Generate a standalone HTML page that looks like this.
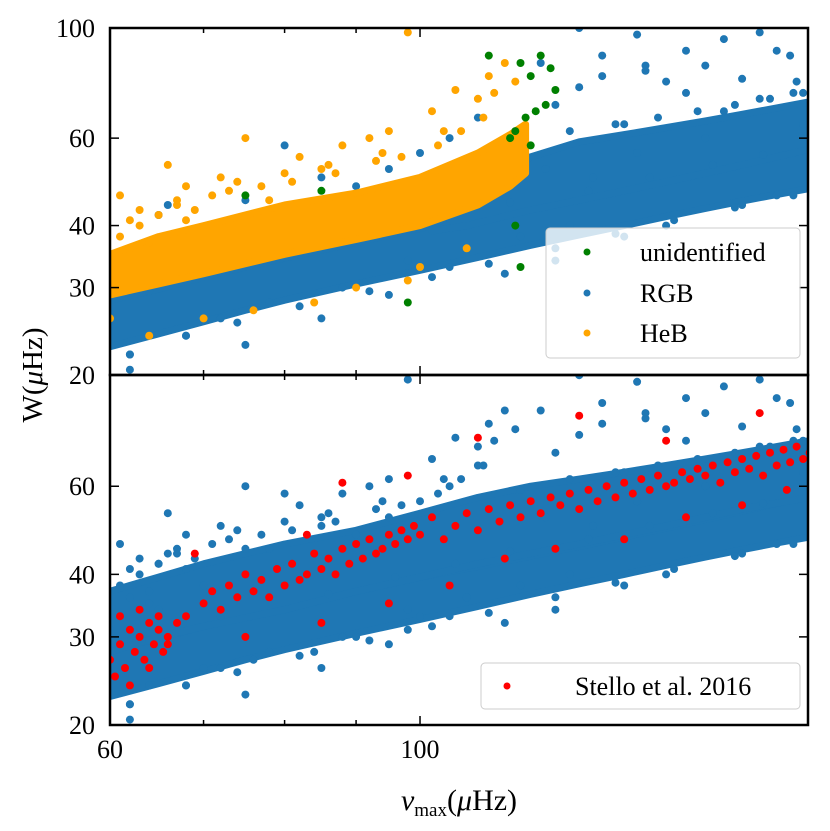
<!DOCTYPE html>
<html><head><meta charset="utf-8">
<style>
html,body{margin:0;padding:0;background:#fff;}
svg{display:block;font-family:"Liberation Serif",serif;}
</style></head>
<body>
<svg id="chart" width="830" height="831" viewBox="0 0 830 831" xmlns="http://www.w3.org/2000/svg">
<defs>
<clipPath id="clipTop"><rect x="110" y="28" width="698" height="347"/></clipPath>
<clipPath id="clipBot"><rect x="110" y="375" width="698" height="350"/></clipPath>
</defs>
<g id="topPlot" clip-path="url(#clipTop)"></g>
<g id="botPlot" clip-path="url(#clipBot)"></g>
<g id="axes"></g>
<g>
<rect x="546" y="228" width="254" height="130" rx="4" fill="#fff" fill-opacity="0.8" stroke="#ccc" stroke-width="1"/>
<circle cx="587" cy="252" r="3.5" fill="green"/>
<text x="640" y="261" font-size="26">unidentified</text>
<circle cx="587" cy="293" r="3.5" fill="#1f77b4"/>
<text x="640" y="302" font-size="26">RGB</text>
<circle cx="587" cy="333" r="3.5" fill="orange"/>
<text x="640" y="342" font-size="26">HeB</text>
</g>
<g>
<rect x="481" y="663" width="319" height="46" rx="4" fill="#fff" fill-opacity="0.8" stroke="#ccc" stroke-width="1"/>
<circle cx="507" cy="686" r="3.5" fill="red"/>
<text x="575" y="695" font-size="26">Stello et al. 2016</text>
</g>
<rect x="110" y="28" width="698" height="347" fill="none" stroke="#000" stroke-width="2.5"/>
<rect x="110" y="375" width="698" height="350" fill="none" stroke="#000" stroke-width="2.5"/>
<text x="42" y="375" font-size="29" text-anchor="middle" transform="rotate(-90 42 375)">W(<tspan font-style="italic">μ</tspan>Hz)</text>
<text x="459" y="810" font-size="30" text-anchor="middle"><tspan font-style="italic">ν</tspan><tspan font-size="19" dy="6">max</tspan><tspan dy="-6">(</tspan><tspan font-style="italic">μ</tspan>Hz)</text>
</svg>
<script>
// ---- data ----
const xTicks=[60,100];
const xMinor=[70,80,90];
const yTicksTop=[20,30,40,60,100];
const yTicksBot=[20,30,40,60];
const bandNu=[58,60,65,70,75,80,90,100,110,120,130,140,150,160,170,180,190,195];
const bandLo=[22,22.8,24.2,25.6,27,28.3,30.5,32.5,34.5,36.5,38.3,40,41.7,43.3,44.8,46.2,47.5,48];
const bandHi=[27.5,28.3,29.8,31.5,33,34.4,37,39.5,41.5,43.5,45.5,47.5,49.5,51.5,53.5,55.5,57.5,58];
const upNuT=[102,108,114,120,130,140,150,160,170,180,190,195];
const upLoT=[39,40,41.5,43,45,47,49,51,53,55,57,58];
const upHiT=[40,44,50,55,59,61,63,65,67,69,71,72];
const upNuB=[58,60,65,70,80,90,100,110,120,130,140,150,160,170,180,190,195];
const upLoB=[27,28,30,31.5,34,37,39.5,42,44,46,48,50,52,54,55.5,57,58];
const upHiB=[36,37,39.5,42,46,49,53,57,60,62,64,66,68,70,72,74,75];
const hebNu=[58,60,65,70,80,90,100,110,116,119];
const hebLo=[28,29,30.5,32,35,37.5,40,44,48,51];
const hebHi=[34,35,38,40,44,46.5,50,56,61,64];
const blueNu=[62,65,70,75,80,85,90,95,100,105,110,75,85,95,105,115,125,140,150,170,180,125,130,135,140,145,150,155,160,165,170,175,180,185,188,155,175,130,145,65,68,72,78,88,98,108,118,128,160,186,62,66,64,200,143,122,135,165,184,190];
const blueW=[20.5,42,38,45,58,50,48,52,56,60,66,23,26,29,33,32,34,38,40,44,46,70,76,80,64,82,78,74,84,68,79,72,90,74,64,90,98,100,84,34,24,26,28,30,34,36,38,40,60,78,22,44,35,60,97,85,88,95,88,70];
const edgeNu=[62,68,74,82,92,102,112,125,138,152,168,185,118,128,138,148,158,168,178,188,123,133,143,64,72,86,96,106,116,132,146,162,176,190];
const edgeW=[22,24,25.5,27.5,29.5,31.5,33.5,36,38.5,41,43.5,46,59,62,64,66,68,70,72,74,52,50,56,29.5,33,36.5,39.5,42,44.5,47,50,53,55.5,58.5];
const hebPNu=[61,63,66,68,72,75,78,82,85,88,92,95,98,102,106,110,112,115,64,70,76,84,90,100,108,98,62,67,74,80,86,94,104,113,117,60,61,63,65,67,69,71,73,77,81,87,93,97,103,107,111,60,62,64,68];
const hebPW=[46,43,53,48,50,60,45,55,52,58,60,62,98,68,75,72,80,85,24,26,27,28,30,33,36,31,41,45,49,51,53,56,62,74,78,26,38,40,42,44,43,46,47,48,49,51,54,55,58,62,66,31,36,37,41];
const greenNu=[118,120,122,124,125,123,121,119,117,116,120,98,85,75,118,117,112];
const greenW=[85,80,88,83,75,70,68,66,62,60,58,28,47,46,33,40,88];
const redNu=[60,61,61.5,62,62.5,63,63.5,64,64.5,65,65.5,66,67,60.5,61,62,63,64,65,66,68,70,71,72,73,74,75,76,77,78,79,80,81,82,83,84,85,86,87,88,89,90,91,92,93,94,95,96,97,98,99,100,102,104,106,108,110,112,114,116,118,120,122,124,126,128,130,132,134,136,138,140,142,144,146,148,150,152,154,156,158,160,162,164,166,168,170,172,174,176,178,180,182,184,186,188,190,75,85,95,105,115,125,140,155,170,183,88,98,110,130,150,175,69,83];
const redW=[27,29,26,31,28,30,27,32,29,31,28,30,32,25,33,24,34,26,33,29,33,35,37,34,38,36,40,37,39,36,41,38,42,39,40,44,41,43,40,45,42,46,43,47,44,45,48,46,49,47,50,48,52,47,50,53,49,54,51,55,52,56,53,57,55,58,54,59,56,60,57,61,58,62,59,63,60,61,64,62,65,63,66,61,67,64,68,65,69,63,70,66,71,67,72,68,70,30,32,35,38,43,45,47,52,55,59,61,63,75,83,74,84,44,48];

// ---- scales ----
const X0=110,KX=606.9,KY=215.6;
function xs(nu){return X0+KX*Math.log(nu/60);}
function yT(w){return 375-KY*Math.log(w/20);}
function yB(w){return 725-KY*Math.log(w/20)*1.008;}
const NS="http://www.w3.org/2000/svg";
function mk(tag,attrs,parent){const e=document.createElementNS(NS,tag);for(const k in attrs)e.setAttribute(k,attrs[k]);parent.appendChild(e);return e;}
function band(g,nu,lo,hi,ys,fill){
  let pts=[];
  for(let i=0;i<nu.length;i++)pts.push(xs(nu[i]).toFixed(1)+","+ys(lo[i]).toFixed(1));
  for(let i=nu.length-1;i>=0;i--)pts.push(xs(nu[i]).toFixed(1)+","+ys(hi[i]).toFixed(1));
  return mk("polygon",{points:pts.join(" "),fill:fill,stroke:fill,"stroke-width":7,"stroke-linejoin":"round"},g);
}
function dots(g,nu,w,ys,fill,name){
  for(let i=0;i<nu.length;i++){
    const c=mk("circle",{cx:xs(nu[i]).toFixed(1),cy:ys(w[i]).toFixed(1),r:4,fill:fill},g);
    
    
  }
}
const blue="#1f77b4";
const topG=document.getElementById("topPlot"),botG=document.getElementById("botPlot");
let b1=band(topG,bandNu,bandLo,bandHi,yT,blue);


let b2=band(topG,upNuT,upLoT,upHiT,yT,blue);


dots(topG,blueNu,blueW,yT,blue,'rgb-point');
dots(topG,edgeNu,edgeW,yT,blue,'rgb-point');
let h1=band(topG,hebNu,hebLo,hebHi,yT,"orange");


dots(topG,hebPNu,hebPW,yT,"orange",'heb-point');
dots(topG,greenNu,greenW,yT,"green",'unidentified-point');
let b3=band(botG,bandNu,bandLo,bandHi,yB,blue);


let b4=band(botG,upNuB,upLoB,upHiB,yB,blue);


dots(botG,blueNu,blueW,yB,blue,'star-point');
dots(botG,edgeNu,edgeW,yB,blue,'star-point');
dots(botG,hebPNu,hebPW,yB,blue,'star-point');
dots(botG,redNu,redW,yB,"red",'stello-point');
const ax=document.getElementById("axes");
function tick(x1,y1,x2,y2){mk("line",{x1:x1,y1:y1,x2:x2,y2:y2,stroke:"#000","stroke-width":1.5},ax);}
function label(x,y,t,anchor,name){const e=mk("text",{x:x,y:y,"font-size":26,"text-anchor":anchor},ax);e.textContent=t;}
xTicks.forEach(v=>{const x=xs(v);
  [28,375].forEach(y=>{tick(x,y,x,y+9);});[375,725].forEach(y=>{tick(x,y,x,y-9);});
  label(x,758,String(v),"middle",'x-tick-label');});
xMinor.forEach(v=>{const x=xs(v);[28,375].forEach(y=>tick(x,y,x,y+5));[375,725].forEach(y=>tick(x,y,x,y-5));});
yTicksTop.forEach(v=>{const y=yT(v);tick(110,y,119,y);tick(808,y,799,y);label(95,y+9,String(v),"end",'y-tick-label-top');});
yTicksBot.forEach(v=>{const y=yB(v);tick(110,y,119,y);tick(808,y,799,y);label(95,y+9,String(v),"end",'y-tick-label-bottom');});
</script>
</body></html>
